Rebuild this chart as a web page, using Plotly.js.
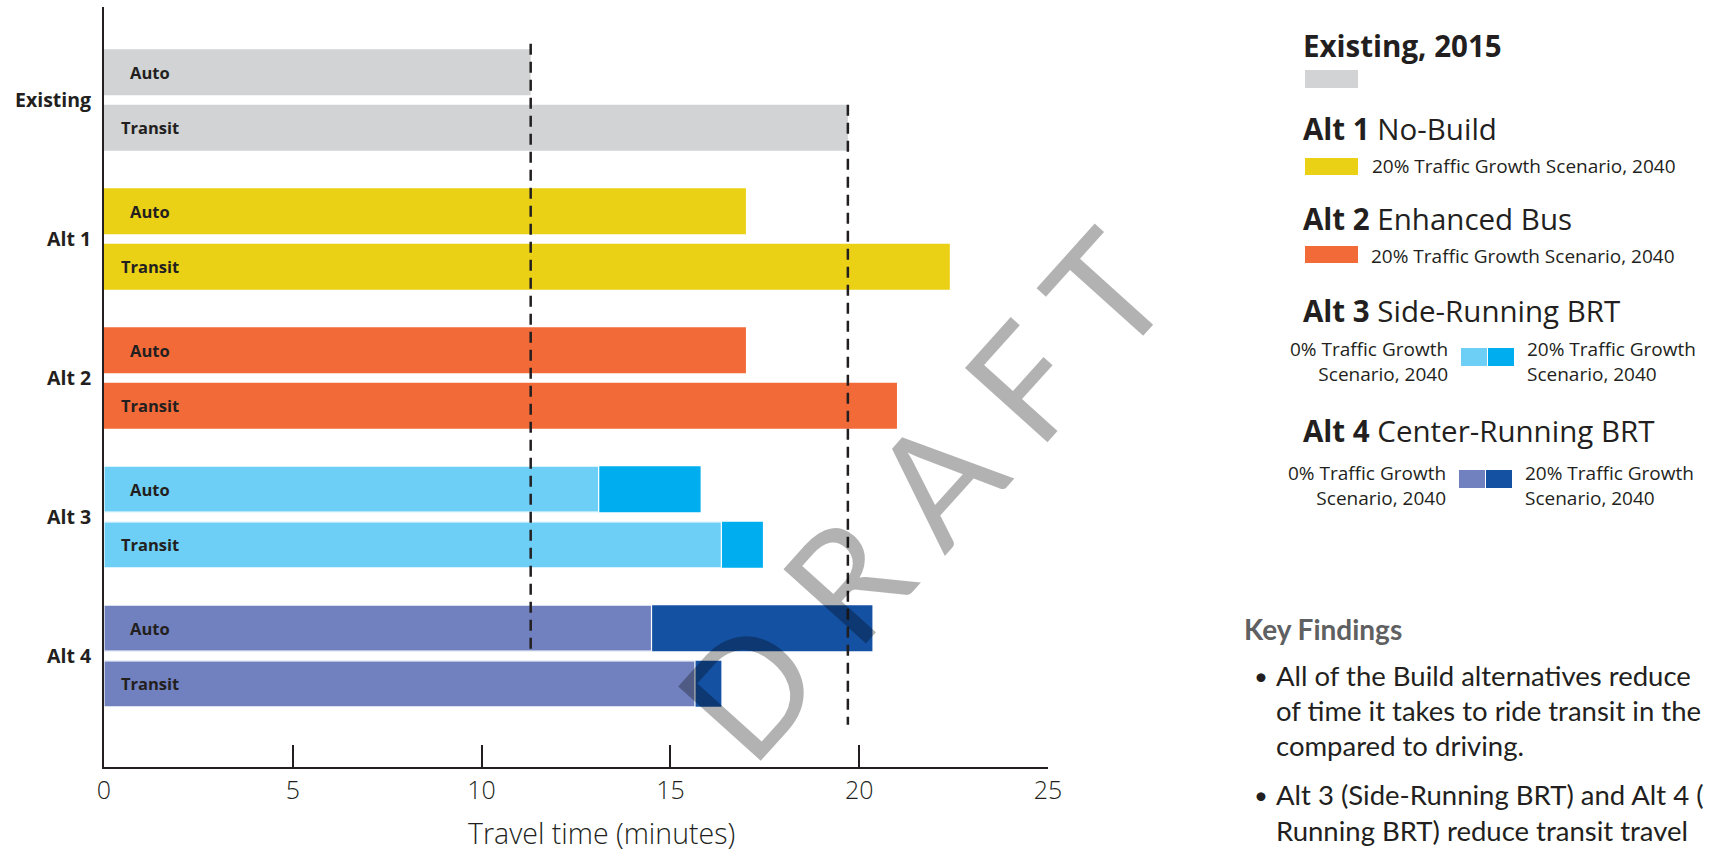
<!DOCTYPE html>
<html>
<head>
<meta charset="utf-8">
<script src="https://cdn.plot.ly/plotly-3.0.1.min.js"></script>
<style>html,body{margin:0;padding:0;background:#fff;}</style>
</head>
<body>
<div id="chart" style="width:1710px;height:853px;"></div>
<script>
// ---------------- data ----------------
const groups = ['Existing', 'Alt 1', 'Alt 2', 'Alt 3', 'Alt 4'];
const modes = ['Auto', 'Transit'];
const xTicks = [0, 5, 10, 15, 20, 25];
const existing2015 = [11.3, 19.7];          // Auto, Transit (minutes)
const alt1Growth20 = [17.0, 22.4];
const alt2Growth20 = [17.0, 21.0];
const alt3Growth0 = [13.1, 16.35];
const alt3Growth20 = [15.8, 17.45];
const alt4Growth0 = [14.5, 15.65];
const alt4Growth20 = [20.35, 16.35];
const xTitle = 'Travel time (minutes)';

// ---------------- style / layout helpers ----------------
const INK = '#231f20';
const C = {
  gray: '#d1d3d4', yellow: '#ebd115', orange: '#f26a38',
  lblue: '#6dcff6', blue: '#00aeef', lav: '#7181bf', dblue: '#1451a3'
};
const SANS = '"Open Sans", Lato, sans-serif';
const BODY = 'Lato, "Open Sans", sans-serif';
const L = 104, R = 1048, T = 7, B = 767, W = 1710, H = 853;
const px = x => (x - L) / (R - L);
const py = y => (B - y) / (B - T);
const OFF = 0.2, BW = 0.33;
const pos = (g, m) => g + (m === 0 ? -OFF : OFF);

function barTrace(gi, vals, color, name, outline) {
  return {
    type: 'bar', orientation: 'h', name: name,
    x: vals, y: modes.map((m, mi) => pos(gi, mi)),
    width: BW,
    marker: {color: color, line: {color: outline ? '#ffffff' : color, width: outline ? 1.2 : 0}},
    hoverinfo: 'x', showlegend: false
  };
}

const traces = [
  barTrace(0, existing2015, C.gray, 'Existing, 2015'),
  barTrace(1, alt1Growth20, C.yellow, 'Alt 1'),
  barTrace(2, alt2Growth20, C.orange, 'Alt 2'),
  barTrace(3, alt3Growth20, C.blue, 'Alt 3 20%'),
  barTrace(3, alt3Growth0, C.lblue, 'Alt 3 0%', true),
  barTrace(4, alt4Growth20, C.dblue, 'Alt 4 20%'),
  barTrace(4, alt4Growth0, C.lav, 'Alt 4 0%', true)
];

const annotations = [];
const shapes = [];

// bar labels
groups.forEach((g, gi) => {
  modes.forEach((m, mi) => {
    annotations.push({
      xref: 'x', yref: 'y', x: 0, y: pos(gi, mi), text: m,
      showarrow: false, xanchor: 'center', yanchor: 'middle', xshift: 46,
      font: {family: SANS, size: 16.5, color: INK, weight: 700}
    });
  });
});

// dashed reference lines (existing auto / existing transit)
shapes.push({
  type: 'line', xref: 'x', yref: 'y',
  x0: existing2015[0], x1: existing2015[0],
  y0: pos(0, 0) - BW / 2 - 0.04, y1: pos(groups.length - 1, 0) + BW / 2,
  line: {color: INK, width: 2.5, dash: '11px,7px'}
});
shapes.push({
  type: 'line', xref: 'x', yref: 'y',
  x0: existing2015[1], x1: existing2015[1],
  y0: pos(0, 1) - BW / 2, y1: pos(groups.length - 1, 1) + BW / 2 + 0.13,
  line: {color: INK, width: 2.5, dash: '11px,7px'}
});

// ---------------- right-hand legend ----------------
function txt(x, y, text, size, opts) {
  opts = opts || {};
  annotations.push({
    xref: 'paper', yref: 'paper', x: px(x), y: py(y), text: text,
    showarrow: false, xanchor: opts.anchor || 'left', yanchor: 'middle',
    align: opts.align || 'left', borderpad: 0,
    font: {family: opts.family || SANS, size: size, color: opts.color || INK, weight: opts.weight || 400}
  });
}
function swatch(x0, y0, x1, y1, color) {
  shapes.push({type: 'rect', xref: 'paper', yref: 'paper',
    x0: px(x0), x1: px(x1), y0: py(y1), y1: py(y0),
    fillcolor: color, line: {width: 0}});
}
const HEAD = 29.5, SMALL = 19;
txt(1302, 45, 'Existing, 2015', HEAD, {weight: 700});
swatch(1305, 70, 1358, 88, C.gray);
txt(1302, 128, '<b>Alt 1</b> No-Build', HEAD);
swatch(1305, 158, 1358, 175, C.yellow);
txt(1371, 166, '20% Traffic Growth Scenario, 2040', SMALL);
txt(1302, 218, '<b>Alt 2</b> Enhanced Bus', HEAD);
swatch(1305, 246, 1358, 263, C.orange);
txt(1370, 256, '20% Traffic Growth Scenario, 2040', SMALL);
txt(1302, 310, '<b>Alt 3</b> Side-Running BRT', HEAD);
txt(1449, 362, '0% Traffic Growth<br>Scenario, 2040', SMALL, {anchor: 'right', align: 'right'});
swatch(1461, 348, 1487, 366, C.lblue);
swatch(1488, 348, 1514, 366, C.blue);
txt(1526, 362, '20% Traffic Growth<br>Scenario, 2040', SMALL);
txt(1302, 430, '<b>Alt 4</b> Center-Running BRT', HEAD);
txt(1447, 485, '0% Traffic Growth<br>Scenario, 2040', SMALL, {anchor: 'right', align: 'right'});
swatch(1459, 470, 1485, 488, C.lav);
swatch(1486, 470, 1512, 488, C.dblue);
txt(1524, 485, '20% Traffic Growth<br>Scenario, 2040', SMALL);

// key findings
const KF = 27.5;
txt(1243, 629, 'Key Findings', 28, {weight: 700, color: '#5f6062', family: BODY});
txt(1253, 675, '•', 24, {family: BODY});
txt(1275, 675, 'All of the Build alternatives reduce', KF, {family: BODY});
txt(1275, 710, 'of time it takes to ride transit in the', KF, {family: BODY});
txt(1275, 745, 'compared to driving.', KF, {family: BODY});
txt(1253, 795, '•', 24, {family: BODY});
txt(1275, 795, 'Alt 3 (Side-Running BRT) and Alt 4 (', KF, {family: BODY});
txt(1275, 830, 'Running BRT) reduce transit travel', KF, {family: BODY});

// DRAFT watermark
annotations.push({
  xref: 'paper', yref: 'paper', x: px(920), y: py(494),
  text: 'D R A F T', showarrow: false, textangle: -48,
  xanchor: 'center', yanchor: 'middle',
  font: {family: BODY, size: 155, color: 'rgba(0,0,0,0.3)', weight: 400}
});

// axis title (offset to the right of the plot centre, as in the source)
txt(601, 833, xTitle, 28.5, {anchor: 'center', align: 'center', weight: 300});

const layout = {
  width: W, height: H, autosize: false,
  margin: {l: L, r: W - R, t: T, b: H - B, pad: 0},
  paper_bgcolor: '#ffffff', plot_bgcolor: '#ffffff',
  barmode: 'overlay', showlegend: false,
  xaxis: {
    range: [0, 25], tickvals: xTicks, ticktext: xTicks.map(String),
    ticks: 'inside', ticklen: 22, tickwidth: 2, tickcolor: INK,
    showline: true, linewidth: 2, linecolor: INK,
    showgrid: false, zeroline: false, fixedrange: true,
    tickfont: {family: SANS, size: 25, color: INK, weight: 300},
    automargin: false
  },
  yaxis: {
    range: [(B - 100) / 139, (T - 100) / 139],
    tickvals: groups.map((g, i) => i), ticktext: groups,
    ticks: '', showline: true, linewidth: 2, linecolor: INK,
    showgrid: false, zeroline: false, fixedrange: true,
    ticklabelstandoff: 7,
    tickfont: {family: SANS, size: 19.5, color: INK, weight: 700},
    automargin: false
  },
  shapes: shapes,
  annotations: annotations
};

Plotly.newPlot('chart', traces, layout, {displayModeBar: false, staticPlot: true});
</script>
</body>
</html>
